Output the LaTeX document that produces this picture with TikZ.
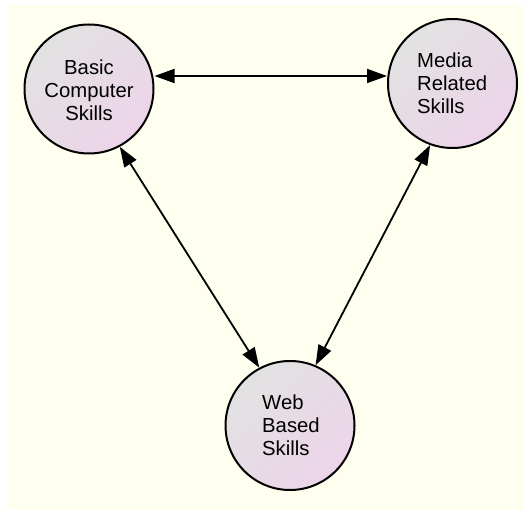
\documentclass[tikz,border=0pt]{standalone}
\usepackage{fontspec}
\setmainfont{Liberation Sans}
\usetikzlibrary{arrows.meta}
\definecolor{paper}{HTML}{FFFFF0}
\definecolor{skillA}{HTML}{E2E2E2}
\definecolor{skillB}{HTML}{ECD4E8}
\tikzset{
  skill/.style={circle, draw=black, line width=2pt, minimum size=129pt,
    inner sep=0pt, top color=skillA, bottom color=skillB, shading angle=45},
  label/.style={font=\fontsize{20.3}{23}\selectfont, inner sep=0pt},
  link/.style={line width=1.8pt, {Triangle[length=20pt,width=14pt]}-{Triangle[length=20pt,width=14pt]}}
}
\begin{document}
\begin{tikzpicture}[x=1pt,y=-1pt]
  \useasboundingbox (0,0) rectangle (524,510);
  \fill[paper] (8,5) rectangle (524,510);

  \node[skill] (basic) at (89,89) {};
  \node[skill] (media) at (452.5,83.5) {};
  \node[skill] (web) at (290,425.5) {};

  \node[label, align=center] (basicT) at (89,90) {Basic\\Computer\\Skills};
  \node[label, align=left, anchor=west] (mediaT) at (417,83) {Media\\Related\\Skills};
  \node[label, align=left, anchor=west] (webT) at (262,425) {Web\\Based\\Skills};

  \draw[link] ([yshift=13pt]basic.east) -- ([yshift=7.5pt]media.west);
  \draw[link] (basic.-62) -- (web.118);
  \draw[link] (media.-110) -- (web.67);
\end{tikzpicture}
\end{document}
